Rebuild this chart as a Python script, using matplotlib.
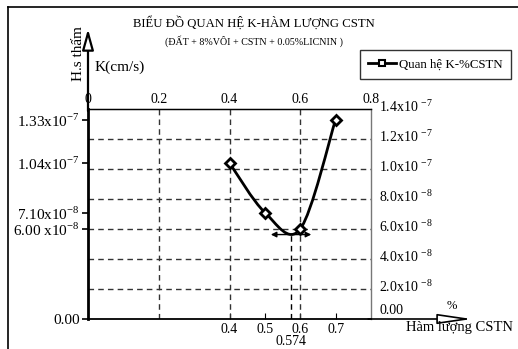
import matplotlib.pyplot as plt
from matplotlib.path import Path
from matplotlib.patches import PathPatch
from matplotlib.lines import Line2D
import matplotlib.transforms as mtransforms

plt.rcParams['font.family'] = ['Liberation Serif', 'DejaVu Serif']
plt.rcParams['mathtext.fontset'] = 'custom'
plt.rcParams['mathtext.rm'] = 'Liberation Serif'

# data: CSTN content (%) vs permeability K (cm/s)
content = [0.4, 0.5, 0.6, 0.7]
k_values = [1.04e-7, 7.10e-8, 6.00e-8, 1.33e-7]
k_labels = ['1.04x10$^{-7}$', '7.10x10$^{-8}$', '6.00 x10$^{-8}$', '1.33x10$^{-7}$']
min_content = 0.574
min_k = 5.63e-8

top_ticks = [0, 0.2, 0.4, 0.6, 0.8]
top_labels = ['0', '0.2', '0.4', '0.6', '0.8']
right_ticks = [0, 2e-8, 4e-8, 6e-8, 8e-8, 1.0e-7, 1.2e-7, 1.4e-7]
right_labels = ['0.00', '2.0x10 $^{-8}$', '4.0x10 $^{-8}$', '6.0x10 $^{-8}$',
                '8.0x10 $^{-8}$', '1.0x10 $^{-7}$', '1.2x10 $^{-7}$', '1.4x10 $^{-7}$']

W, H = 518, 349
fig = plt.figure(figsize=(W / 100, H / 100), dpi=100)
ax = fig.add_axes([88 / W, (H - 319) / H, (371 - 88) / W, (319 - 109) / H])
ax.set_xlim(0, 0.8)
ax.set_ylim(0, 1.4e-7)

# outer frame (top and left edges only visible)
fig.add_artist(Line2D([8 / W, 1], [1 - 7 / H, 1 - 7 / H], color='black', lw=1.2))
fig.add_artist(Line2D([8 / W, 8 / W], [0, 1 - 7 / H], color='black', lw=1.2))

# spines
ax.spines['left'].set_linewidth(2)
ax.spines['bottom'].set_linewidth(1.3)
ax.spines['top'].set_linewidth(1)
ax.spines['right'].set_color('#777777')
ax.spines['right'].set_linewidth(1)

# dashed grid
for yv in right_ticks[1:-1]:
    ax.axhline(yv, color='#333333', lw=1, ls=(0, (4, 3)))
for xv in top_ticks[1:-1]:
    ax.axvline(xv, color='#333333', lw=1, ls=(0, (4, 3)))

# smooth curve (Catmull-Rom as cubic Bezier)
pts = list(zip(content, k_values))
verts = [pts[0]]
codes = [Path.MOVETO]
for i in range(len(pts) - 1):
    p0 = pts[i - 1] if i > 0 else pts[i]
    p1 = pts[i]
    p2 = pts[i + 1]
    p3 = pts[i + 2] if i + 2 < len(pts) else pts[i + 1]
    c1 = (p1[0] + (p2[0] - p0[0]) / 6, p1[1] + (p2[1] - p0[1]) / 6)
    c2 = (p2[0] - (p3[0] - p1[0]) / 6, p2[1] - (p3[1] - p1[1]) / 6)
    verts += [c1, c2, p2]
    codes += [Path.CURVE4] * 3
ax.add_patch(PathPatch(Path(verts, codes), fill=False, lw=2, color='black', zorder=3))
ax.plot(content, k_values, ls='none', marker='D', ms=5, mfc='white', mec='black',
        mew=2, zorder=4)

# minimum marker
ax.plot([min_content, min_content], [0, min_k], color='black', lw=1, ls=(0, (4, 3)))
ax.annotate('', xy=(min_content - 0.065, min_k), xytext=(min_content + 0.065, min_k),
            arrowprops=dict(arrowstyle='<|-|>', color='black', lw=1, mutation_scale=8))
ax.annotate('0.574', xy=(min_content, 0), xytext=(0, -11.5), textcoords='offset points',
            ha='center', va='top', fontsize=10)

# bottom ticks
ax.set_xticks(content)
ax.set_xticklabels([str(c) for c in content], fontsize=10)
ax.tick_params(axis='x', direction='in', length=4, pad=3)

# left ticks
ax.set_yticks(k_values + [0])
ax.set_yticklabels(k_labels + ['0.00'], fontsize=11)
ax.tick_params(axis='y', direction='out', length=4, pad=2, width=1.2)

# top axis labels
top = ax.secondary_xaxis('top')
top.set_xticks(top_ticks)
top.set_xticklabels(top_labels, fontsize=10)
top.tick_params(length=0, pad=2)

# right labels
trans = mtransforms.blended_transform_factory(ax.transAxes, ax.transData)
for yv, lab in zip(right_ticks, right_labels):
    dy = 9 if yv == 0 else 2
    ax.annotate(lab, xy=(1.0, yv), xycoords=trans, xytext=(6, dy * 0.72),
                textcoords='offset points', ha='left', va='center', fontsize=10)

# axis arrows
ax.annotate('', xy=(0, (319 - 29) / 210), xytext=(0, 0.99), xycoords='axes fraction',
            arrowprops=dict(arrowstyle='-|>,head_length=0.9,head_width=0.25', fc='white',
                            ec='black', lw=1.6, mutation_scale=14, shrinkA=0, shrinkB=0))
ax.annotate('', xy=((472 - 88) / 283, 0), xytext=(0.99, 0), xycoords='axes fraction',
            arrowprops=dict(arrowstyle='-|>,head_length=1.5,head_width=0.22', fc='white',
                            ec='black', lw=1.2, mutation_scale=14, shrinkA=0, shrinkB=0))

# axis titles
fig.text(95 / W, 1 - 67 / H, 'K(cm/s)', fontsize=11, va='center', ha='left')
fig.text(78 / W, 1 - 54 / H, 'H.s thấm', fontsize=11, va='center', ha='center', rotation=90)
fig.text(452 / W, 1 - 306 / H, '%', fontsize=9, va='center', ha='center')
fig.text(460 / W, 1 - 328 / H, 'Hàm lượng CSTN', fontsize=10.5, va='center', ha='center')

# titles
fig.text(254 / W, 1 - 23 / H, 'BIỂU ĐỒ QUAN HỆ K-HÀM LƯỢNG CSTN', fontsize=9.2,
         ha='center', va='center')
fig.text(254 / W, 1 - 41 / H, '(ĐẤT + 8%VÔI + CSTN + 0.05%LICNIN )', fontsize=7.2,
         ha='center', va='center')

# legend
handle = Line2D([], [], color='black', lw=2, marker='s', ms=5, mfc='white', mec='black', mew=1.5)
leg = fig.legend([handle], ['Quan hệ K-%CSTN'], loc='upper right',
                 bbox_to_anchor=(511 / W, 1 - 50 / H), fontsize=9.3, frameon=True,
                 fancybox=False, edgecolor='black', borderpad=0.65, handlelength=2.2,
                 handletextpad=0.2, borderaxespad=0)
leg.get_frame().set_linewidth(1)

fig.savefig('out.png', dpi=100)
